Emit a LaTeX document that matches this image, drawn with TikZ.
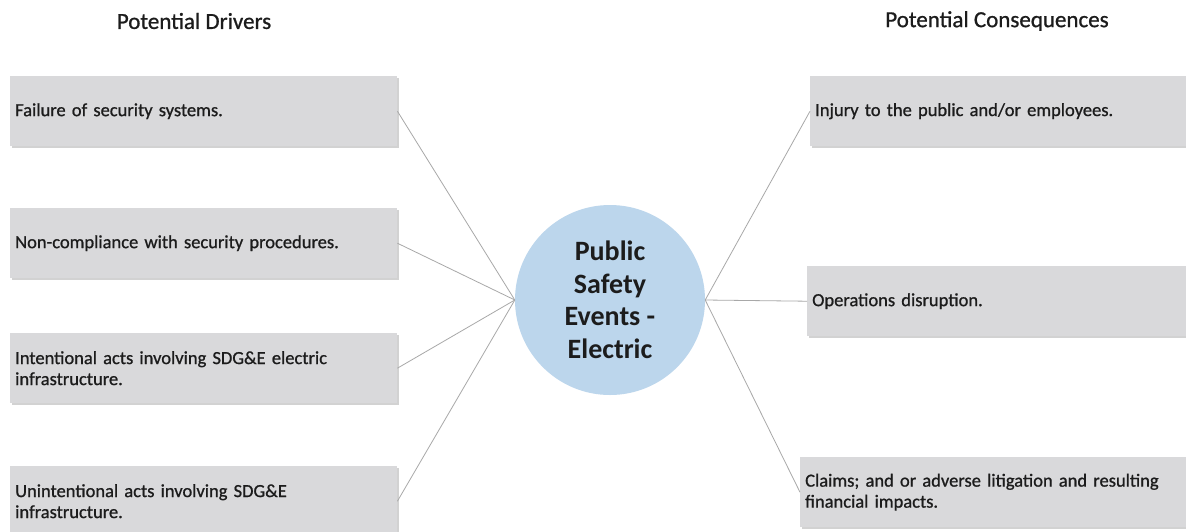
\documentclass[tikz,border=0pt]{standalone}
\usepackage{fontspec}
\setmainfont{Carlito}
\newfontfamily\heavyfont{Carlito}[FakeBold=0.9]
\usetikzlibrary{shadows}
\definecolor{boxgray}{HTML}{D9D9DB}
\definecolor{circblue}{HTML}{BCD6EC}
\definecolor{linegray}{HTML}{A8A8A8}
\definecolor{txt}{HTML}{1C1C1C}
\begin{document}
\begin{tikzpicture}[x=1pt,y=-1pt,
  every node/.style={text=txt},
  title/.style={font=\heavyfont\fontsize{23}{26}\selectfont},
  infobox/.style={fill=boxgray, anchor=north west, inner xsep=5pt, inner ysep=0pt,
    minimum height=70pt, text width=#1, align=left,
    font=\heavyfont\fontsize{18.5}{21}\selectfont,
    drop shadow={shadow xshift=1.5pt, shadow yshift=-1.5pt, opacity=0.35, fill=gray}},
  hub/.style={circle, fill=circblue, minimum size=190pt, inner sep=0pt, align=center,
    font=\fontsize{28}{32.5}\selectfont\bfseries},
  link/.style={draw=linegray, line width=0.8pt}
]
\useasboundingbox (0,0) rectangle (1186,531);
\fill[white] (0,0) rectangle (1186,531);

\node[title] (tl) at (194,21) {Potential Drivers};
\node[title] (tr) at (997,21) {Potential Consequences};

\node[infobox=377pt] (d1) at (10,76) {Failure of security systems.};
\node[infobox=377pt] (d2) at (10,208) {Non-compliance with security procedures.};
\node[infobox=377pt] (d3) at (10,333) {Intentional acts involving SDG\&E electric\\infrastructure.};
\node[infobox=377pt] (d4) at (10,466) {Unintentional acts involving SDG\&E\\infrastructure.};

\node[infobox=380pt] (c1) at (810,76) {Injury to the public and/or employees.};
\node[infobox=380pt] (c2) at (807,266) {Operations disruption.};
\node[infobox=385pt] (c3) at (800,457) {Claims; and or adverse litigation and resulting\\financial impacts.};

\node[hub] (hub) at (610,300) {Public\\Safety\\Events -\\Electric};

\foreach \n in {d1,d2,d3,d4} \draw[link] (\n.east) -- (hub.west);
\foreach \n in {c1,c2,c3} \draw[link] (hub.east) -- (\n.west);
\end{tikzpicture}
\end{document}
